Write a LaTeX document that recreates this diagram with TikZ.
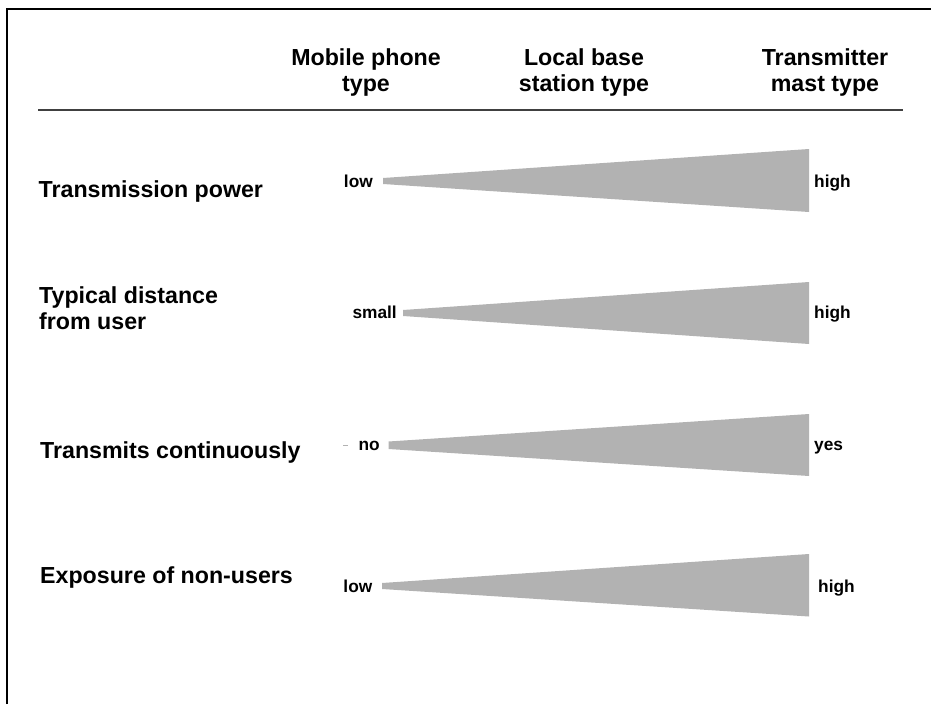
\documentclass[tikz,border=0pt]{standalone}
\usepackage{fontspec}
\setmainfont{Liberation Sans}
\definecolor{wedgegray}{HTML}{B2B2B2}
\definecolor{rulegray}{HTML}{404040}
\tikzset{
  bigtext/.style={font=\fontsize{23.2}{26}\selectfont\bfseries, inner sep=0pt},
  smalltext/.style={font=\fontsize{17.3}{20}\selectfont\bfseries, inner sep=0pt},
  header/.style={bigtext, align=center, anchor=north},
  rowlabel/.style={bigtext, align=left, anchor=north west},
  wedge/.style={fill=wedgegray, draw=none},
}
\begin{document}
\begin{tikzpicture}[x=1pt,y=-1pt]
\useasboundingbox (0,0) rectangle (931,704);
% frame
\draw[line width=2.5pt] (7,704) -- (7,9) -- (931,9);
% headers
\node[header] (h1) at (366,48) {Mobile phone\\type};
\node[header] (h2) at (584,48) {Local base\\station type};
\node[header] (h3) at (825,48) {Transmitter\\mast type};
\draw[rulegray, line width=1.5pt] (38,110) -- (903,110);
% row labels
\node[rowlabel] (r1) at (38.5,180) {Transmission power};
\node[rowlabel] (r2) at (39,286.5) {Typical distance\\from user};
\node[rowlabel] (r3) at (40,441) {Transmits continuously};
\node[rowlabel] (r4) at (40,566.5) {Exposure of non-users};
% wedges
\fill[wedge] (383,178) -- (809,149) -- (809,212) -- (383,184) -- cycle;
\fill[wedge] (403,310) -- (809,282) -- (809,344) -- (403,316) -- cycle;
\fill[wedge] (388.5,441.5) -- (809,414) -- (809,476) -- (388.5,449) -- cycle;
\fill[wedge] (382,583) -- (809,554) -- (809,616.5) -- (382,589) -- cycle;
\draw[gray!60, line width=0.8pt] (343,445) -- (348,445);
% end labels
\node[smalltext, anchor=base east] (l1) at (373,187) {low};
\node[smalltext, anchor=base west] (e1) at (814,187) {high};
\node[smalltext, anchor=base east] (l2) at (397,318.5) {small};
\node[smalltext, anchor=base west] (e2) at (814,318.5) {high};
\node[smalltext, anchor=base east] (l3) at (380,450.7) {no};
\node[smalltext, anchor=base west] (e3) at (814,450.7) {yes};
\node[smalltext, anchor=base east] (l4) at (372.5,592.5) {low};
\node[smalltext, anchor=base west] (e4) at (818,592.5) {high};
\end{tikzpicture}
\end{document}
